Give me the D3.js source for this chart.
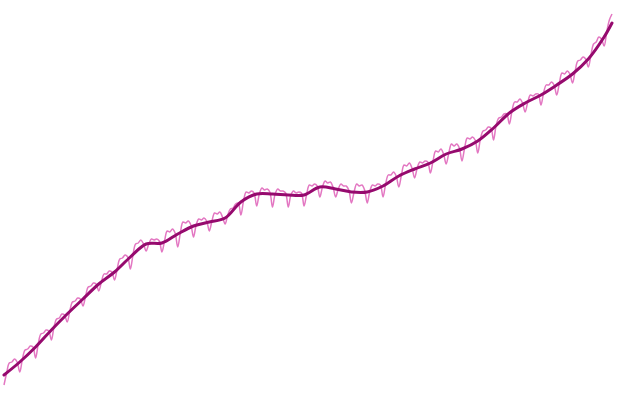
<!DOCTYPE html>
<html>
<head>
<meta charset="utf-8">
<script src="https://cdn.jsdelivr.net/npm/d3@7"></script>
<style>
  html, body { margin: 0; padding: 0; background: #fff; }
  svg { display: block; }
</style>
</head>
<body>
<div id="chart"></div>
<script>
// series starts at this year, 6 samples per year (every 2 months)
var startYear = 1980;
var perYear = 6;

// raw values, one row per year
var observed = [
  15, 27, 37, 38, 41, 38,
  28, 41, 50, 51, 54, 53,
  42, 56, 66, 67, 70, 69,
  60, 73, 81, 82, 86, 85,
  78, 89, 98, 99, 102, 101,
  94, 104, 113, 114, 117, 116,
  109, 118, 126, 126, 129, 128,
  120, 131, 141, 142, 145, 143,
  131, 145, 156, 157, 160, 156,
  149, 156, 161, 160, 161, 159,
  148, 159, 169, 168, 171, 167,
  153, 167, 178, 177, 179, 175,
  163, 175, 181, 180, 182, 179,
  169, 179, 187, 186, 188, 183,
  176, 185, 191, 192, 196, 197,
  185, 199, 208, 207, 209, 207,
  194, 206, 212, 210, 211, 208,
  193, 206, 211, 209, 209, 207,
  193, 205, 209, 207, 208, 207,
  194, 206, 215, 214, 216, 214,
  203, 213, 219, 217, 218, 213,
  203, 211, 216, 214, 214, 210,
  197, 208, 216, 214, 215, 210,
  197, 209, 215, 214, 216, 215,
  203, 216, 225, 225, 228, 224,
  213, 225, 235, 234, 237, 232,
  222, 232, 238, 237, 239, 238,
  227, 239, 249, 248, 251, 246,
  236, 247, 256, 254, 256, 252,
  239, 252, 262, 261, 263, 260,
  247, 261, 269, 270, 273, 272,
  260, 275, 282, 283, 286, 286,
  276, 289, 298, 298, 301, 297,
  288, 298, 305, 304, 306, 306,
  295, 307, 315, 315, 318, 315,
  305, 317, 327, 326, 329, 326,
  317, 329, 339, 340, 343, 341,
  333, 345, 356, 358, 363, 361,
  354, 368, 380, 386
];

// smoothed trend, one value per year plus the last sample
var trend = [
  25, 38, 53, 70, 86, 101, 116, 128, 143, 156,
  157, 166, 174, 178, 182, 198, 206, 206, 205, 205,
  213, 211, 208, 208, 214, 224, 231, 237, 246, 251,
  259, 272, 287, 297, 305, 315, 326, 341, 363, 377
];
var trendYears = trend.map((v, i) => i < trend.length - 1 ? startYear + i : startYear + (observed.length - 1) / perYear);

var width = 620, height = 414;

var rows = observed.map((v, i) => ({ t: startYear + i / perYear, v: v }));
var trendRows = trend.map((v, i) => ({ t: trendYears[i], v: v }));

var x = d3.scaleLinear()
    .domain(d3.extent(rows, d => d.t))
    .range([4, 612]);

var y = d3.scaleLinear()
    .domain([0, 400])
    .range([400, 0]);

var svg = d3.select("#chart").append("svg")
    .attr("width", width)
    .attr("height", height);

var rawLine = d3.line()
    .x(d => x(d.t))
    .y(d => y(d.v))
    .curve(d3.curveCatmullRom.alpha(0.5));

var trendLine = d3.line()
    .x(d => x(d.t))
    .y(d => y(d.v))
    .curve(d3.curveCatmullRom.alpha(0.5));

svg.append("path")
    .datum(rows)
    .attr("fill", "none")
    .attr("stroke", "#e377c2")
    .attr("stroke-width", 1.5)
    .attr("d", rawLine);

svg.append("path")
    .datum(trendRows)
    .attr("fill", "none")
    .attr("stroke", "#960a6e")
    .attr("stroke-width", 3)
    .attr("stroke-linejoin", "round")
    .attr("stroke-linecap", "round")
    .attr("d", trendLine);
</script>
</body>
</html>
